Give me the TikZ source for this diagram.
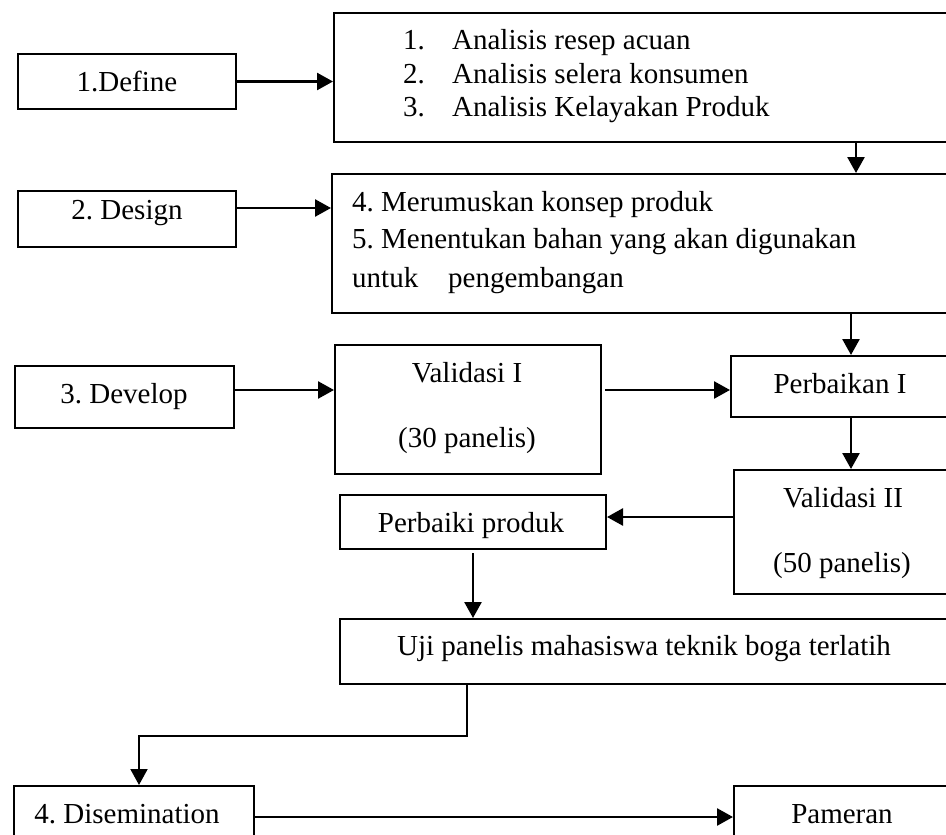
\documentclass[tikz,border=0pt]{standalone}
\usepackage{fontspec}
\setmainfont{Liberation Serif}
\usetikzlibrary{arrows.meta}
\frenchspacing
\begin{document}
\frenchspacing
\begin{tikzpicture}[x=1pt,y=-1pt,
  box/.style={draw,line width=2pt,anchor=north west,inner sep=0pt},
  txt/.style={anchor=base,inner sep=0pt,font=\fontsize{29}{33}\selectfont\frenchspacing},
  txtl/.style={anchor=base west,inner sep=0pt,font=\fontsize{29}{33}\selectfont\frenchspacing},
  arr/.style={line width=2.6pt,-{Triangle[length=16pt,width=17pt]}},
  arrthin/.style={line width=2pt,-{Triangle[length=16pt,width=17pt]}}]
\useasboundingbox (0,0) rectangle (946,835);
\clip (0,0) rectangle (946,835);
\fill[white] (0,0) rectangle (946,835);
% boxes
\node[box,minimum width=218pt,minimum height=55pt] (define) at (17,53) {};
\node[box,minimum width=700pt,minimum height=129pt] (top) at (333,12) {};
\node[box,minimum width=218pt,minimum height=56pt] (design) at (17,190) {};
\node[box,minimum width=700pt,minimum height=139pt] (dbox) at (331,173) {};
\node[box,minimum width=219pt,minimum height=62pt] (develop) at (14,365) {};
\node[box,minimum width=266pt,minimum height=129pt] (val1) at (334,344) {};
\node[box,minimum width=300pt,minimum height=61pt] (perb) at (730,355) {};
\node[box,minimum width=300pt,minimum height=124pt] (val2) at (733,469) {};
\node[box,minimum width=266pt,minimum height=54pt] (produk) at (339,494) {};
\node[box,minimum width=700pt,minimum height=65pt] (uji) at (339,618) {};
\node[box,minimum width=240pt,minimum height=100pt] (dis) at (13,785) {};
\node[box,minimum width=300pt,minimum height=100pt] (pam) at (733,785) {};
% texts
\node[txt] (tdefine) at (127,91) {1.Define};
\node[txtl] (ta1) at (403,49) {\makebox[49pt][l]{1.}Analisis resep acuan};
\node[txtl] (ta2) at (403,83) {\makebox[49pt][l]{2.}Analisis selera konsumen};
\node[txtl] (ta3) at (403,116) {\makebox[49pt][l]{3.}Analisis Kelayakan Produk};
\node[txt] (tdesign) at (127,219) {2. Design};
\node[txtl] (tb1) at (352,211) {4. Merumuskan konsep produk};
\node[txtl] (tb2) at (352,248) {5. Menentukan bahan yang akan digunakan};
\node[txtl] (tb3) at (352,287) {\makebox[96pt][l]{untuk}pengembangan};
\node[txt] (tdevelop) at (124,403) {3. Develop};
\node[txt] (tv1a) at (467,382) {Validasi I};
\node[txt] (tv1b) at (467,447) {(30 panelis)};
\node[txt] (tperb) at (840,393) {Perbaikan I};
\node[txt] (tv2a) at (843,507) {Validasi II};
\node[txt] (tv2b) at (842,572) {(50 panelis)};
\node[txt] (tprod) at (471,532) {Perbaiki produk};
\node[txt] (tuji) at (644,655) {Uji panelis mahasiswa teknik boga terlatih};
\node[txt] (tdis) at (127,823) {4. Disemination};
\node[txt] (tpam) at (842,823) {Pameran};
% helper coordinates
\coordinate (xa) at (856,0);
\coordinate (xb) at (851,0);
\coordinate (ya) at (0,208);
\coordinate (yb) at (0,390);
\coordinate (yc) at (0,517);
\coordinate (yd) at (0,817);
\coordinate (xu) at (467,0);
\coordinate (bend) at (139,736);
% connectors
\draw[arr] (define.east) -- (define.east -| top.west);
\draw[arr] (top.south -| xa) -- (dbox.north -| xa);
\draw[arr] (design.east |- ya) -- (dbox.west |- ya);
\draw[arr] (dbox.south -| xb) -- (perb.north -| xb);
\draw[arr] (develop.east |- yb) -- (val1.west |- yb);
\draw[arr] ([xshift=3pt]val1.east |- yb) -- (perb.west |- yb);
\draw[arr] (perb.south -| xb) -- (val2.north -| xb);
\draw[arr] (val2.west |- yc) -- (produk.east |- yc);
\draw[arr] ([yshift=-3pt]produk.south) -- (produk.south |- uji.north);
\draw[arrthin] (uji.south -| xu) -- (xu |- bend) -- (bend) -- (dis.north -| bend);
\draw[arr] (dis.east |- yd) -- (pam.west |- yd);
\end{tikzpicture}
\end{document}
